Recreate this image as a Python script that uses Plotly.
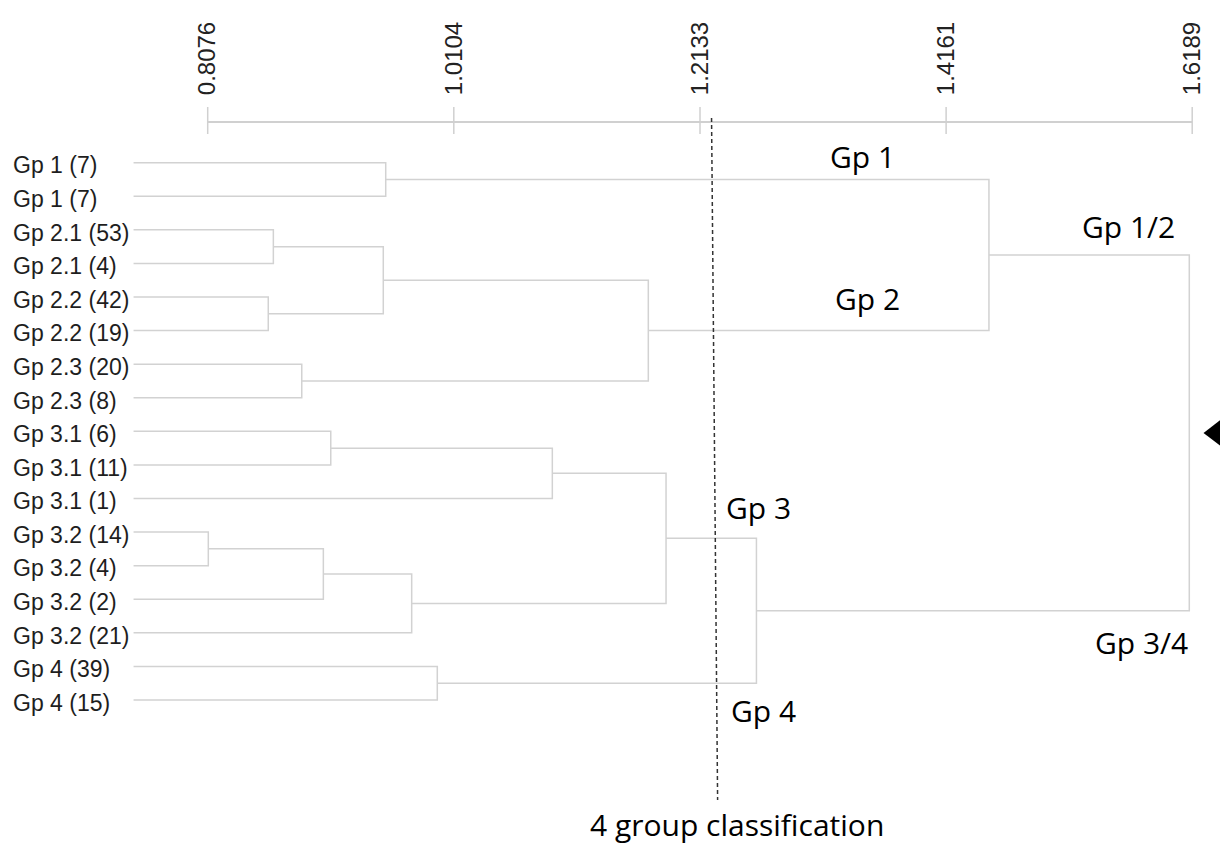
import plotly.graph_objects as go

# ---------------- data ----------------
leaf_labels = [
    "Gp 1 (7)", "Gp 1 (7)",
    "Gp 2.1 (53)", "Gp 2.1 (4)",
    "Gp 2.2 (42)", "Gp 2.2 (19)",
    "Gp 2.3 (20)", "Gp 2.3 (8)",
    "Gp 3.1 (6)", "Gp 3.1 (11)", "Gp 3.1 (1)",
    "Gp 3.2 (14)", "Gp 3.2 (4)", "Gp 3.2 (2)", "Gp 3.2 (21)",
    "Gp 4 (39)", "Gp 4 (15)",
]
# linkage: node ids < 17 are leaves, node 17+k is created by merge k
merge_left = [0, 2, 4, 18, 6, 20, 17, 8, 24, 11, 26, 27, 25, 15, 29, 23]
merge_right = [1, 3, 5, 19, 7, 21, 22, 9, 10, 12, 13, 14, 28, 16, 30, 31]
merge_height = [0.9543, 0.8617, 0.8575, 0.9523, 0.8851, 1.1707, 1.4514,
                0.9090, 1.0916, 0.8081, 0.9029, 0.9757, 1.1853, 0.9968,
                1.2598, 1.6165]
leaf_height = 0.7465
tick_values = [0.8076, 1.0104, 1.2133, 1.4161, 1.6189]
tick_text = ["0.8076", "1.0104", "1.2133", "1.4161", "1.6189"]
cut_height = [1.2228, 1.2278]          # 4-group cut line (top, bottom)
group_labels = ["Gp 1", "Gp 2", "Gp 1/2", "Gp 3", "Gp 3/4", "Gp 4"]
cut_label = "4 group classification"

# ---------------- layout of the tree ----------------
n_leaves = len(leaf_labels)
node_x = [leaf_height] * n_leaves
node_y = list(range(n_leaves))
for a, b, h in zip(merge_left, merge_right, merge_height):
    node_x.append(h)
    node_y.append((node_y[a] + node_y[b]) / 2)

tree_x, tree_y = [], []
for a, b, h in zip(merge_left, merge_right, merge_height):
    tree_x += [node_x[a], h, h, node_x[b], None]
    tree_y += [node_y[a], node_y[a], node_y[b], node_y[b], None]

LINE = "#d2d2d2"
fig = go.Figure()

fig.add_trace(go.Scatter(x=tree_x, y=tree_y, mode="lines",
                         line=dict(color=LINE, width=1.5),
                         hoverinfo="skip"))

# top scale bar with crossing ticks
axis_y = -1.2118
fig.add_trace(go.Scatter(x=[tick_values[0], tick_values[-1]], y=[axis_y, axis_y],
                         mode="lines", line=dict(color="#d0d0d0", width=2.2),
                         hoverinfo="skip"))
tx, ty = [], []
for t in tick_values:
    tx += [t, t, None]
    ty += [axis_y - 0.447, axis_y + 0.357, None]
fig.add_trace(go.Scatter(x=tx, y=ty, mode="lines",
                         line=dict(color="#d0d0d0", width=1.5), hoverinfo="skip"))

# cut line
fig.add_trace(go.Scatter(x=cut_height, y=[-1.331, 18.98], mode="lines",
                         line=dict(color="#333333", width=1.5, dash="4px,3px"),
                         hoverinfo="skip"))

# root marker
root_y = node_y[-1]
fig.add_trace(go.Scatter(x=[1.6377], y=[root_y], mode="markers",
                         marker=dict(symbol="triangle-left", size=23, color="black"),
                         cliponaxis=False, hoverinfo="skip"))

# leaf labels
fig.add_trace(go.Scatter(x=[0.6472] * n_leaves, y=[v + 0.15 for v in node_y[:n_leaves]],
                         mode="text", text=leaf_labels, textposition="middle right",
                         textfont=dict(family="Liberation Sans, Arial", size=23, color="#1e1e1e"),
                         cliponaxis=False, hoverinfo="skip"))

# group annotations
group_pos = [(1.3468, -0.19), (1.3517, 4.04), (1.5664, 1.90),
             (1.2611, 10.27), (1.5771, 14.30), (1.2652, 16.30)]
for lab, (gx, gy) in zip(group_labels, group_pos):
    fig.add_annotation(x=gx, y=gy, text=lab, showarrow=False,
                       xanchor="center", yanchor="middle",
                       font=dict(family="Open Sans", size=30, color="black"))
fig.add_annotation(x=1.2434, y=19.72, text=cut_label, showarrow=False,
                   xanchor="center", yanchor="middle",
                   font=dict(family="Open Sans", size=30, color="black"))

fig.update_layout(
    width=1220, height=849,
    margin=dict(l=0, r=0, t=104, b=0, pad=0),
    paper_bgcolor="white", plot_bgcolor="white",
    showlegend=False,
    xaxis=dict(range=[0.63644, 1.64180], side="top",
               tickvals=tick_values, ticktext=tick_text, tickangle=-90,
               ticks="outside", ticklen=3, tickcolor="rgba(0,0,0,0)",
               showgrid=False, zeroline=False, showline=False,
               tickfont=dict(family="Liberation Sans, Arial", size=24, color="#222222")),
    yaxis=dict(range=[20.438, -1.748], visible=False),
)

fig.write_html(
    "out.html",
    config={"displayModeBar": False},
    post_script="document.body.style.margin='0';"
                "document.documentElement.style.overflow='hidden';"
                "document.body.style.overflow='hidden';",
)
